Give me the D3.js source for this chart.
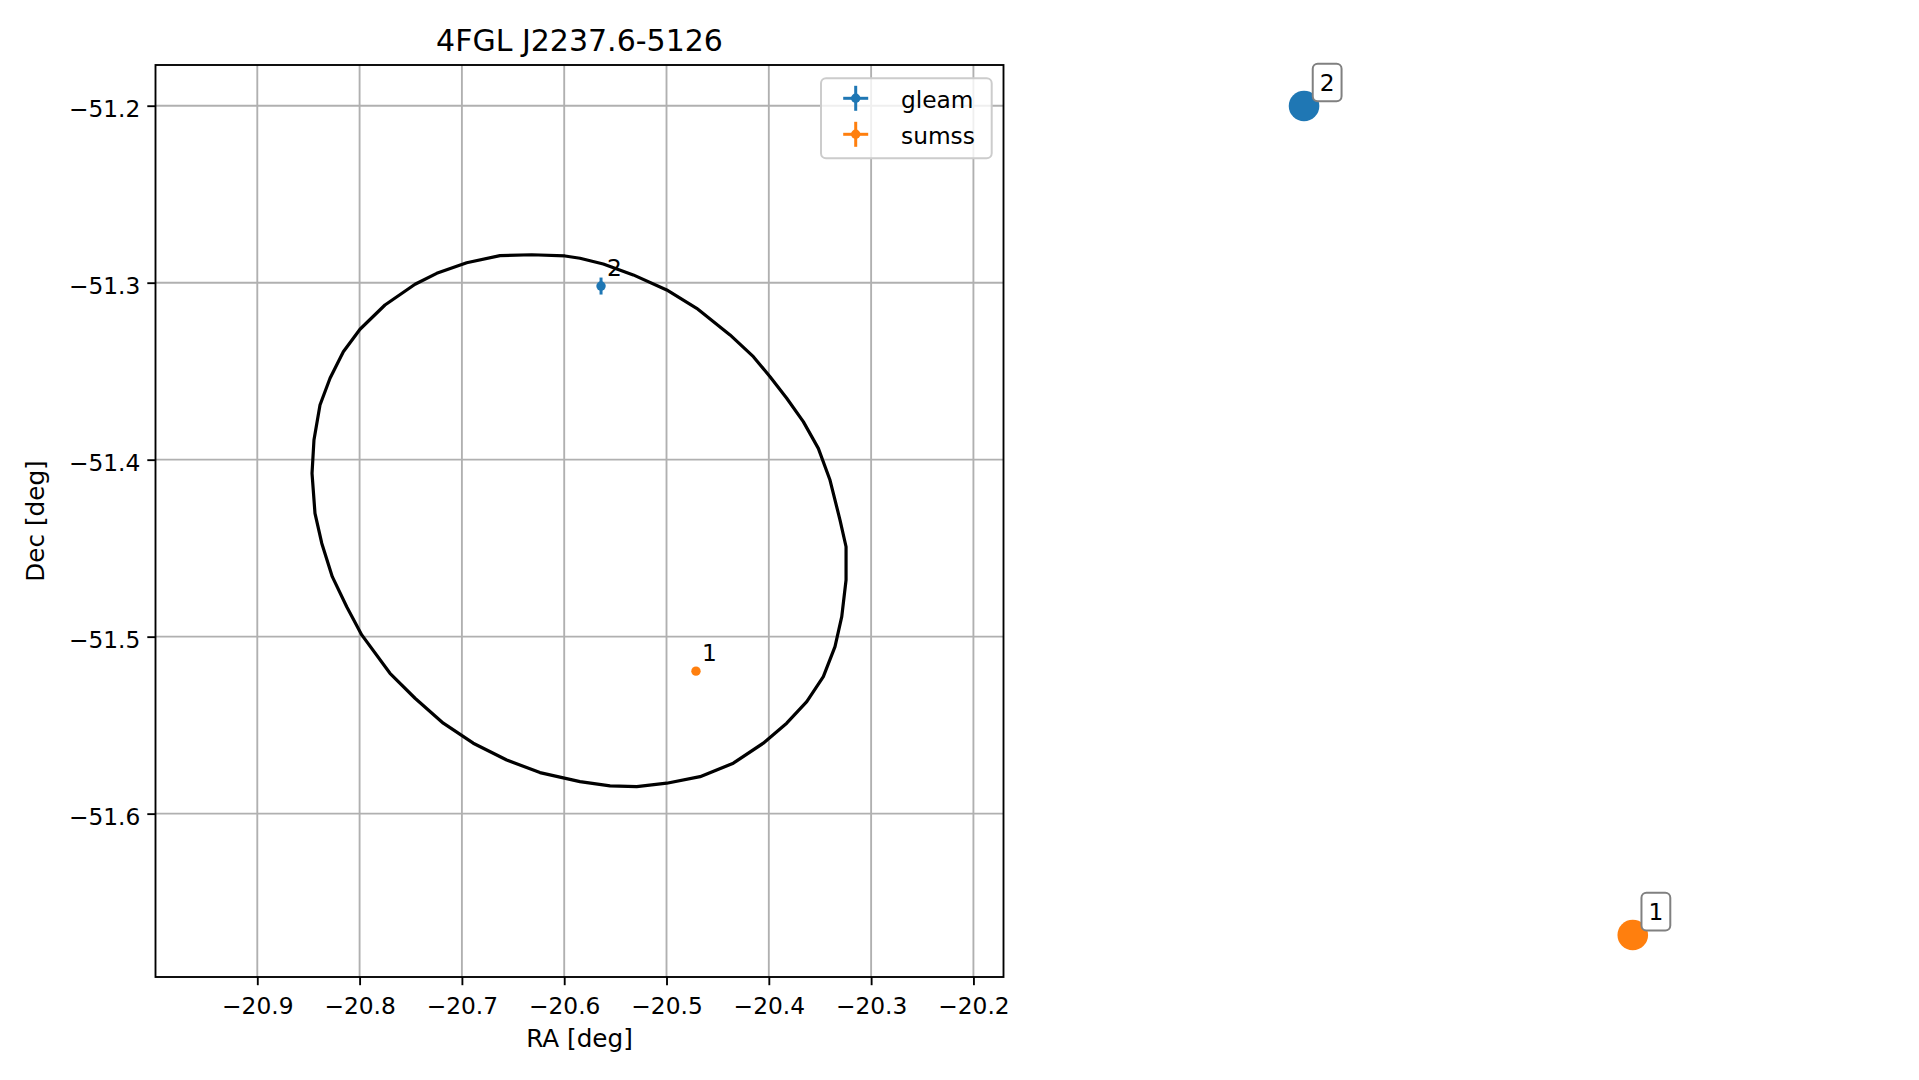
<!DOCTYPE html>
<html>
<head>
<meta charset="utf-8">
<script src="https://cdn.jsdelivr.net/npm/d3@7"></script>
<style>
  html, body { margin: 0; padding: 0; background: #fff; }
  svg { display: block; }
  text { font-family: "DejaVu Sans", sans-serif; fill: #000; }
</style>
</head>
<body>
<svg id="chart" width="1919" height="1080"></svg>
<script>
// ---------- data ----------
const chartTitle = "4FGL J2237.6-5126";
const raTicks = [-20.9, -20.8, -20.7, -20.6, -20.5, -20.4, -20.3, -20.2];
const decTicks = [-51.2, -51.3, -51.4, -51.5, -51.6];
const raLimits = [-20.9995, -20.1706];
const decLimits = [-51.6923, -51.1770];

const sourceNames = ["gleam", "sumss"];
const sourceLabels = ["2", "1"];
const sourceRA = [-20.564, -20.4712];
const sourceDec = [-51.3019, -51.5195];
const sourceRAErr = [0.003, 0.001];
const sourceDecErr = [0.0048, 0.001];
const sourceColors = ["#1f77b4", "#ff7f0e"];

// 95% error ellipse vertices
const ellipseRA = [-20.6628, -20.6318, -20.5992, -20.5846, -20.5618, -20.5325, -20.4998, -20.4705,
  -20.4379, -20.4151, -20.3988, -20.3825, -20.3663, -20.3516, -20.3402, -20.3304, -20.3245,
  -20.3245, -20.3287, -20.3353, -20.3467, -20.3629, -20.3825, -20.4054, -20.4347, -20.4672,
  -20.4998, -20.5291, -20.5552, -20.5846, -20.6237, -20.6562, -20.6889, -20.7182, -20.7458,
  -20.7703, -20.7979, -20.8126, -20.8267, -20.8370, -20.8436, -20.8465, -20.8446, -20.8387,
  -20.8289, -20.8159, -20.7996, -20.7752, -20.7458, -20.7246, -20.6953];
const ellipseDec = [-51.2847, -51.2842, -51.2849, -51.2862, -51.2894, -51.2956, -51.3041, -51.3145,
  -51.3295, -51.3418, -51.3531, -51.3653, -51.3785, -51.3936, -51.4115, -51.4341, -51.4492,
  -51.4680, -51.4887, -51.5056, -51.5226, -51.5367, -51.5489, -51.5602, -51.5715, -51.5791,
  -51.5828, -51.5847, -51.5843, -51.5819, -51.5768, -51.5697, -51.5602, -51.5489, -51.5348,
  -51.5207, -51.4990, -51.4831, -51.4661, -51.4472, -51.4303, -51.4077, -51.3889, -51.3691,
  -51.3540, -51.3390, -51.3263, -51.3126, -51.3009, -51.2947, -51.2887];

// ---------- layout ----------
const svg = d3.select("#chart");
svg.append("rect").attr("width", 1919).attr("height", 1080).attr("fill", "#fff");

const L = { left: 155.5, right: 1003.5, top: 65, bottom: 977 };
const R = { left: 1287.6, right: 1649.2, top: 64.5, bottom: 976.5 };
const FS = 23.3;
const FS_LABEL = 24.7;
const FS_TITLE = 30;

const x = d3.scaleLinear().domain(raLimits).range([L.left, L.right]);
const y = d3.scaleLinear().domain(decLimits).range([L.bottom, L.top]);
const fmt = d3.format(".1f");

const g = svg.append("g");

// grid
g.append("g").selectAll("line").data(raTicks).join("line")
  .attr("x1", d => x(d)).attr("x2", d => x(d))
  .attr("y1", L.top).attr("y2", L.bottom)
  .attr("stroke", "#b0b0b0").attr("stroke-width", 1.87);
g.append("g").selectAll("line").data(decTicks).join("line")
  .attr("y1", d => y(d)).attr("y2", d => y(d))
  .attr("x1", L.left).attr("x2", L.right)
  .attr("stroke", "#b0b0b0").attr("stroke-width", 1.87);

// clip for plot area
svg.append("clipPath").attr("id", "clipL").append("rect")
  .attr("x", L.left).attr("y", L.top)
  .attr("width", L.right - L.left).attr("height", L.bottom - L.top);
const plot = g.append("g").attr("clip-path", "url(#clipL)");

// ellipse
const ellipsePts = ellipseRA.map((r, i) => [r, ellipseDec[i]]);
plot.append("path")
  .attr("d", d3.line().x(d => x(d[0])).y(d => y(d[1])).curve(d3.curveLinearClosed)(ellipsePts))
  .attr("fill", "none").attr("stroke", "#000").attr("stroke-width", 3.2)
  .attr("stroke-linejoin", "round");

// sources with error bars
sourceRA.forEach((ra, i) => {
  const c = sourceColors[i];
  const px = x(ra), py = y(sourceDec[i]);
  plot.append("line")
    .attr("x1", x(ra - sourceRAErr[i])).attr("x2", x(ra + sourceRAErr[i]))
    .attr("y1", py).attr("y2", py).attr("stroke", c).attr("stroke-width", 3);
  plot.append("line")
    .attr("x1", px).attr("x2", px)
    .attr("y1", y(sourceDec[i] - sourceDecErr[i])).attr("y2", y(sourceDec[i] + sourceDecErr[i]))
    .attr("stroke", c).attr("stroke-width", 3);
  plot.append("circle").attr("cx", px).attr("cy", py).attr("r", 4.7).attr("fill", c);
  g.append("text").attr("x", px + 6).attr("y", py - 10)
    .attr("font-size", FS).text(sourceLabels[i]);
});

// axes
const xAxis = d3.axisBottom(x).tickValues(raTicks).tickFormat(fmt).tickSize(8.2).tickPadding(7);
const yAxis = d3.axisLeft(y).tickValues(decTicks).tickFormat(fmt).tickSize(8.2).tickPadding(7);
const gx = g.append("g").attr("transform", `translate(0,${L.bottom})`).call(xAxis);
const gy = g.append("g").attr("transform", `translate(${L.left},0)`).call(yAxis);
[gx, gy].forEach(a => {
  a.select(".domain").remove();
  a.selectAll(".tick line").attr("stroke", "#000").attr("stroke-width", 1.87);
  a.selectAll(".tick text").attr("font-size", FS).attr("font-family", "DejaVu Sans").attr("fill", "#000");
});
gx.selectAll(".tick text").attr("dy", null).attr("y", 37);
gy.selectAll(".tick text").attr("dy", null).attr("y", 10.5);

// frame
g.append("rect").attr("x", L.left).attr("y", L.top)
  .attr("width", L.right - L.left).attr("height", L.bottom - L.top)
  .attr("fill", "none").attr("stroke", "#000").attr("stroke-width", 1.87);

// labels
svg.append("text").attr("x", (L.left + L.right) / 2).attr("y", 50.5)
  .attr("text-anchor", "middle").attr("font-size", FS_TITLE).text(chartTitle);
svg.append("text").attr("x", (L.left + L.right) / 2).attr("y", 1047)
  .attr("text-anchor", "middle").attr("font-size", FS_LABEL).text("RA [deg]");
svg.append("text").attr("transform", `translate(44,${(L.top + L.bottom) / 2}) rotate(-90)`)
  .attr("text-anchor", "middle").attr("font-size", FS_LABEL).text("Dec [deg]");

// legend
const leg = svg.append("g");
leg.append("rect").attr("x", 821).attr("y", 78.3).attr("width", 170.7).attr("height", 80)
  .attr("rx", 5).attr("ry", 5)
  .attr("fill", "#fff").attr("fill-opacity", 0.8)
  .attr("stroke", "#cccccc").attr("stroke-width", 2);
sourceNames.forEach((name, i) => {
  const cy = 98.3 + i * 36, cx = 855.7, c = sourceColors[i];
  leg.append("line").attr("x1", cx - 12.5).attr("x2", cx + 12.5).attr("y1", cy).attr("y2", cy)
    .attr("stroke", c).attr("stroke-width", 3);
  leg.append("line").attr("x1", cx).attr("x2", cx).attr("y1", cy - 12.5).attr("y2", cy + 12.5)
    .attr("stroke", c).attr("stroke-width", 3);
  leg.append("circle").attr("cx", cx).attr("cy", cy).attr("r", 4.7).attr("fill", c);
  leg.append("text").attr("x", 901).attr("y", cy + 9.5).attr("font-size", FS).text(name);
});

// ---------- right panel (axis off, autoscaled with 5% margins) ----------
const padExt = (arr) => {
  const [a, b] = d3.extent(arr);
  const p = (b - a) * 0.05;
  return [a - p, b + p];
};
const x2 = d3.scaleLinear().domain(padExt(sourceRA)).range([R.left, R.right]);
const y2 = d3.scaleLinear().domain(padExt(sourceDec)).range([R.bottom, R.top]);
const rp = svg.append("g");
sourceRA.forEach((ra, i) => {
  rp.append("circle").attr("cx", x2(ra)).attr("cy", y2(sourceDec[i])).attr("r", 15.3)
    .attr("fill", sourceColors[i]);
});
sourceRA.forEach((ra, i) => {
  const px = x2(ra), py = y2(sourceDec[i]);
  const t = rp.append("text").attr("x", px + 15.7).attr("y", py - 14.9)
    .attr("font-size", FS).text(sourceLabels[i]);
  const bb = t.node().getBBox();
  const padX = 7, padY = 5.3;
  rp.insert("rect", () => t.node())
    .attr("x", bb.x - padX).attr("y", bb.y - padY)
    .attr("width", bb.width + 2 * padX).attr("height", bb.height + 2 * padY)
    .attr("rx", 5).attr("ry", 5)
    .attr("fill", "#fff").attr("stroke", "#808080").attr("stroke-width", 2);
});
</script>
</body>
</html>
